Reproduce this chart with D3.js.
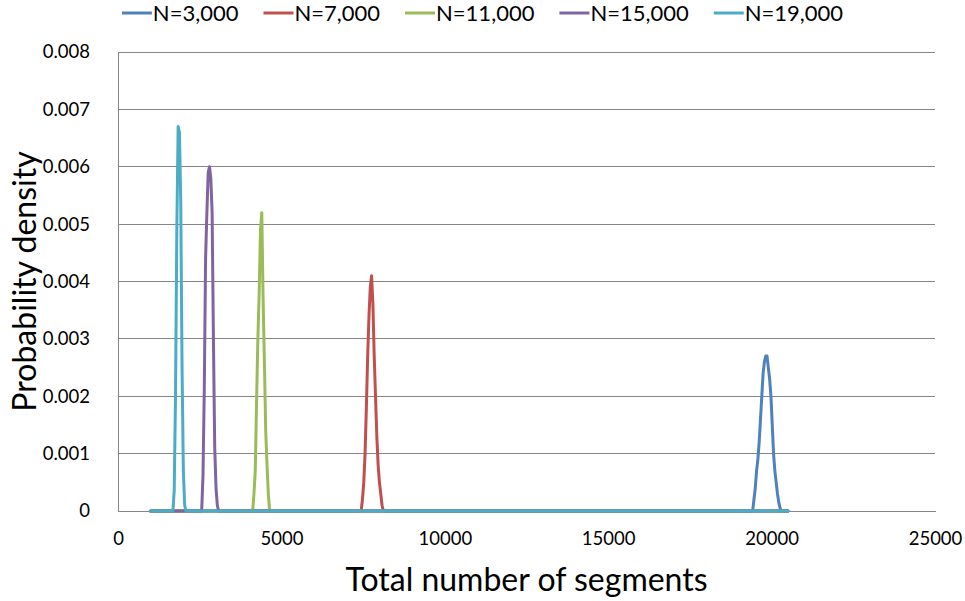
<!DOCTYPE html>
<html>
<head>
<meta charset="utf-8">
<script src="https://cdn.jsdelivr.net/npm/d3@7"></script>
<style>
  html, body { margin: 0; padding: 0; background: #fff; }
  svg { display: block; }
  text { font-family: Lato, "Open Sans", sans-serif; fill: #000; }
</style>
</head>
<body>
<svg id="chart" width="965" height="601"></svg>
<script>
// Shared span of the simulated totals (every series is zero outside its peak)
const gridStart = 1000;
const gridEnd = 20500;

// Axis ticks
const xTicks = [0, 5000, 10000, 15000, 20000, 25000];
const yTicks = [0, 0.001, 0.002, 0.003, 0.004, 0.005, 0.006, 0.007, 0.008];

// Series labels and colours
const seriesNames = ["N=3,000", "N=7,000", "N=11,000", "N=15,000", "N=19,000"];
const seriesColors = ["#4F81BD", "#C0504D", "#9BBB59", "#8064A2", "#4BACC6"];

// Density peaks: total number of segments -> probability density
const n3000X = [19420, 19460, 19500, 19540, 19580, 19620, 19660, 19700, 19740, 19780, 19820, 19860,
                19900, 19940, 19980, 20020, 20060, 20100, 20140, 20180, 20220, 20260, 20300];
const n3000Y = [0, 0.0002, 0.0004, 0.0007, 0.0009, 0.0012, 0.0016, 0.0020, 0.0024, 0.0026, 0.0027, 0.0027,
                0.0025, 0.0023, 0.0020, 0.0015, 0.0010, 0.0007, 0.0005, 0.0003, 0.00015, 0.00005, 0];

const n7000X = [7440, 7480, 7520, 7560, 7600, 7640, 7680, 7720, 7760, 7800, 7840, 7880, 7920, 7960,
                8000, 8040, 8080, 8120];
const n7000Y = [0, 0.0002, 0.0005, 0.0010, 0.0018, 0.0027, 0.0034, 0.0039, 0.0041, 0.0036, 0.0027, 0.0020,
                0.0013, 0.0008, 0.0005, 0.0003, 0.0001, 0];

const n11000X = [4120, 4160, 4200, 4240, 4280, 4320, 4360, 4400, 4440, 4480, 4520, 4560, 4600, 4640];
const n11000Y = [0, 0.0003, 0.0007, 0.0019, 0.0030, 0.0038, 0.0049, 0.0052, 0.0037, 0.0026, 0.0014,
                 0.0008, 0.0003, 0];

const n15000X = [2560, 2600, 2640, 2680, 2720, 2760, 2800, 2840, 2880, 2920, 2960, 3000, 3040, 3080];
const n15000Y = [0, 0.0006, 0.0021, 0.0044, 0.0052, 0.0059, 0.0060, 0.0058, 0.0052, 0.0030, 0.0011,
                 0.0004, 0.0001, 0];

const n19000X = [1680, 1720, 1760, 1800, 1840, 1880, 1920, 1960, 2000, 2040, 2080];
const n19000Y = [0, 0.00035, 0.0020, 0.0049, 0.0067, 0.0066, 0.0054, 0.0025, 0.0007, 0.0001, 0];

const seriesX = [n3000X, n7000X, n11000X, n15000X, n19000X];
const seriesY = [n3000Y, n7000Y, n11000Y, n15000Y, n19000Y];

// Layout
const plot = { left: 118, right: 935, top: 52, bottom: 511 };
const svg = d3.select("#chart");

const x = d3.scaleLinear().domain([0, 25000]).range([plot.left, plot.right]);
const y = d3.scaleLinear().domain([0, 0.008]).range([plot.bottom, plot.top]);

// Horizontal gridlines
svg.append("g")
  .selectAll("line")
  .data(yTicks.slice(1))
  .join("line")
  .attr("x1", plot.left).attr("x2", plot.right)
  .attr("y1", d => y(d)).attr("y2", d => y(d))
  .attr("stroke", "#868686").attr("stroke-width", 1)
  .attr("shape-rendering", "crispEdges");

// Y axis
const yAxis = svg.append("g")
  .attr("transform", `translate(${plot.left},0)`)
  .call(d3.axisLeft(y).tickValues(yTicks).tickSize(0).tickPadding(28)
        .tickFormat(d => d === 0 ? "0" : d3.format(".3f")(d)));
yAxis.select(".domain").attr("stroke", "#868686").attr("shape-rendering", "crispEdges");
yAxis.selectAll("text").attr("font-size", 18.5).attr("font-family", "Lato, sans-serif");

// X axis
const xAxis = svg.append("g")
  .attr("transform", `translate(0,${plot.bottom})`)
  .call(d3.axisBottom(x).tickValues(xTicks).tickSize(0).tickPadding(21).tickFormat(d3.format("d")));
xAxis.select(".domain").attr("stroke", "#868686").attr("shape-rendering", "crispEdges");
xAxis.selectAll("text").attr("font-size", 18.5).attr("font-family", "Lato, sans-serif");

// Density lines
const line = d3.line().x(d => x(d[0])).y(d => y(d[1]));
seriesX.forEach((xs, i) => {
  const pts = [[gridStart, 0]].concat(xs.map((v, j) => [v, seriesY[i][j]]), [[gridEnd, 0]]);
  svg.append("path")
    .datum(pts)
    .attr("d", line)
    .attr("fill", "none")
    .attr("stroke", seriesColors[i])
    .attr("stroke-width", 3)
    .attr("stroke-linejoin", "round")
    .attr("stroke-linecap", "round");
});

// Axis titles
svg.append("text")
  .attr("x", (plot.left + plot.right) / 2)
  .attr("y", 591)
  .attr("text-anchor", "middle")
  .attr("font-size", 32)
  .text("Total number of segments");

svg.append("text")
  .attr("transform", `translate(36,${(plot.top + plot.bottom) / 2}) rotate(-90)`)
  .attr("text-anchor", "middle")
  .attr("font-size", 32)
  .text("Probability density");

// Legend across the top
const legend = svg.append("g");
let cursor = 0;
seriesNames.forEach((name, i) => {
  const g = legend.append("g").attr("transform", `translate(${cursor},0)`);
  g.append("line")
    .attr("x1", 0).attr("x2", 30).attr("y1", 13).attr("y2", 13)
    .attr("stroke", seriesColors[i]).attr("stroke-width", 3);
  const t = g.append("text")
    .attr("x", 31).attr("y", 21)
    .attr("font-size", 22)
    .text(name);
  cursor += 31 + t.node().getComputedTextLength() + 25;
});
const legendWidth = cursor - 25;
legend.attr("transform", `translate(${(965 - legendWidth) / 2},0)`);
</script>
</body>
</html>
